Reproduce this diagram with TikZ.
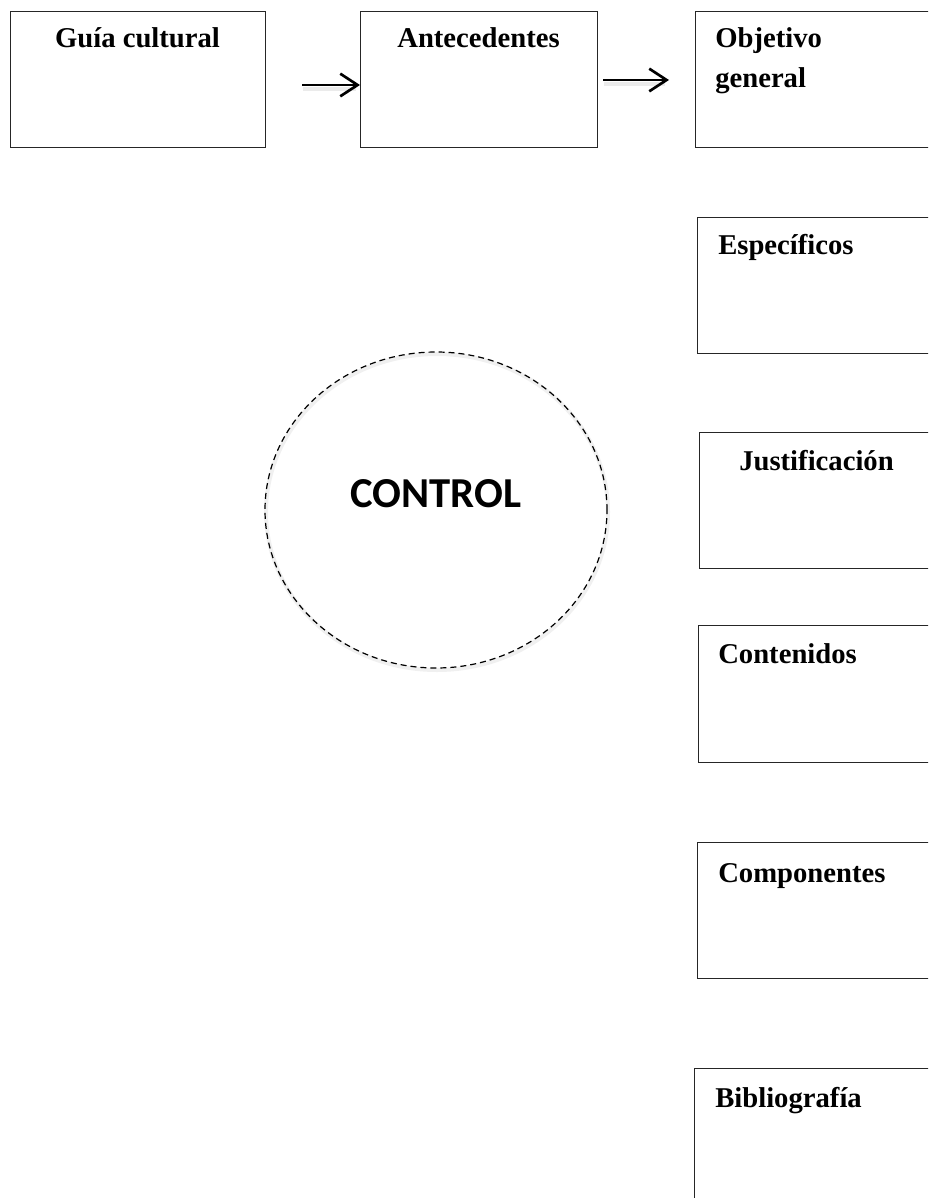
\documentclass[tikz,border=0pt]{standalone}
\usepackage{fontspec}
\setmainfont{Liberation Serif}
\newfontfamily\ctrlfont{Carlito}
\usetikzlibrary{arrows.meta,shapes.geometric}
\tikzset{
  box/.style={draw=black!85, line width=0.9pt, rectangle, inner sep=0pt},
  lbl/.style={font=\fontsize{21.5}{25}\selectfont\bfseries, inner sep=0pt},
  arr/.style={line width=1.6pt, -{Straight Barb[length=13pt,width=17pt,line width=2pt]}},
  arrshadow/.style={line width=3pt, black!8},
  ctrltxt/.style={inner sep=0pt, anchor=base, font=\ctrlfont\fontsize{32}{36}\selectfont\bfseries},
}
\begin{document}
\begin{tikzpicture}[x=0.75pt,y=-0.75pt]
\clip (0,0) rectangle (928,1198);
\fill[white] (0,0) rectangle (928,1198);
% top row
\node[box, minimum width=255*0.75pt, minimum height=136*0.75pt, anchor=north west] (guia) at (10,11) {};
\node[lbl, anchor=base] (tguia) at (137.5,48) {Guía cultural};
\node[box, minimum width=237*0.75pt, minimum height=136*0.75pt, anchor=north west] (ante) at (360,11) {};
\node[lbl, anchor=base] (tante) at (478.5,48) {Antecedentes};
\node[box, minimum width=260*0.75pt, minimum height=136*0.75pt, anchor=north west] (obj) at (695,11) {};
\node[lbl, anchor=base west] (tobj1) at (715,48) {Objetivo};
\node[lbl, anchor=base west] (tobj2) at (715,88) {general};
% arrows
\coordinate (a1s) at (302,85);
\coordinate (a1e) at (360,85);
\coordinate (a2s) at (603,80);
\coordinate (a2e) at (669,80);
\draw[arrshadow] ([shift={(1,4)}]a1s) -- ([shift={(-4,4)}]a1e);
\draw[arrshadow] ([shift={(1,4)}]a2s) -- ([shift={(-4,4)}]a2e);
\draw[arr] (a1s) -- (a1e);
\draw[arr] (a2s) -- (a2e);
% right column
\node[box, minimum width=260*0.75pt, minimum height=136*0.75pt, anchor=north west] (esp) at (697,217) {};
\node[lbl, anchor=base west] (tesp) at (718,254) {Específicos};
\node[box, minimum width=260*0.75pt, minimum height=136*0.75pt, anchor=north west] (just) at (699,432) {};
\node[lbl, anchor=base west] (tjust) at (739,470) {Justificación};
\node[box, minimum width=260*0.75pt, minimum height=137*0.75pt, anchor=north west] (cont) at (698,625) {};
\node[lbl, anchor=base west] (tcont) at (718,663) {Contenidos};
\node[box, minimum width=260*0.75pt, minimum height=136*0.75pt, anchor=north west] (comp) at (697,842) {};
\node[lbl, anchor=base west] (tcomp) at (718,882) {Componentes};
\node[box, minimum width=260*0.75pt, minimum height=200*0.75pt, anchor=north west] (bib) at (694,1068) {};
\node[lbl, anchor=base west] (tbib) at (715,1107) {Bibliografía};
% control circle
\node[ellipse, draw=black!6, line width=3pt, minimum width=342*0.75pt, minimum height=316*0.75pt, inner sep=0pt] (shadow) at (437,512) {};
\node[ellipse, draw, dashed, dash pattern=on 4.5pt off 3pt, line width=0.9pt, minimum width=342*0.75pt, minimum height=316*0.75pt, inner sep=0pt] (ctrl) at (436,510) {};
\node[ctrltxt] (tctrl) at (436,507) {CONTROL};
\end{tikzpicture}
\end{document}
